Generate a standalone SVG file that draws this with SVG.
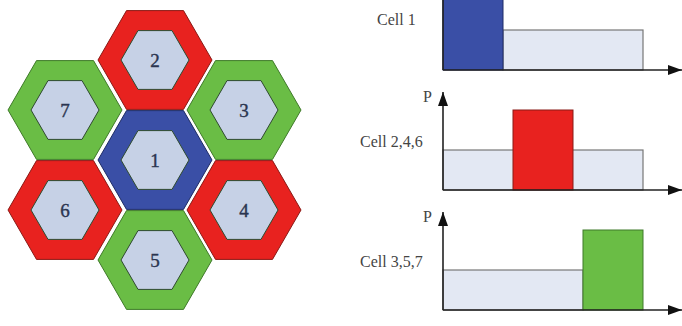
<svg xmlns="http://www.w3.org/2000/svg" width="682" height="326" viewBox="0 0 682 326">
  <style>
    .lbl { font-family: "Liberation Serif", "Times New Roman", serif; fill: #444; font-size: 16px; }
    .num { font-family: "Liberation Serif", "Times New Roman", serif; fill: #2b3550; stroke: #2b3550; stroke-width: 0.4; font-size: 19px; text-anchor: middle; dominant-baseline: central; }
    .inner { fill: #c6d1e6; stroke: #2e4a2e; stroke-width: 1; }
    .red { fill: #e8221f; stroke: #8a1a16; stroke-width: 1; }
    .green { fill: #6abd45; stroke: #3f7a2a; stroke-width: 1; }
    .blue { fill: #3a4fa6; stroke: #1e2c66; stroke-width: 1; }
    .axis { stroke: #222; stroke-width: 1.6; fill: none; }
    .base { fill: #e3e8f3; stroke: #777; stroke-width: 1.2; }
  </style>
  <defs>
    <polygon id="hexOuter" points="-57,0 -28.5,-49.4 28.5,-49.4 57,0 28.5,49.4 -28.5,49.4"/>
    <polygon id="hexInner" points="-34,0 -17,-29.4 17,-29.4 34,0 17,29.4 -17,29.4"/>
    <marker id="arrow" viewBox="0 0 14 10" refX="14" refY="5" markerWidth="14" markerHeight="10" markerUnits="userSpaceOnUse" orient="auto">
      <path d="M0,0 L14,5 L0,10 Z" fill="#111"/>
    </marker>
  </defs>

  <rect width="682" height="326" fill="#ffffff"/>

  <!-- cluster of seven cells -->
  <g id="cell1" transform="translate(155,160)">
    <use href="#hexOuter" class="blue"/>
    <use href="#hexInner" class="inner"/>
    <text class="num" x="0" y="0">1</text>
  </g>
  <g id="cell2" transform="translate(155,60)">
    <use href="#hexOuter" class="red"/>
    <use href="#hexInner" class="inner"/>
    <text class="num" x="0" y="0">2</text>
  </g>
  <g id="cell3" transform="translate(244,110)">
    <use href="#hexOuter" class="green"/>
    <use href="#hexInner" class="inner"/>
    <text class="num" x="0" y="0">3</text>
  </g>
  <g id="cell4" transform="translate(244,210)">
    <use href="#hexOuter" class="red"/>
    <use href="#hexInner" class="inner"/>
    <text class="num" x="0" y="0">4</text>
  </g>
  <g id="cell5" transform="translate(155,260)">
    <use href="#hexOuter" class="green"/>
    <use href="#hexInner" class="inner"/>
    <text class="num" x="0" y="0">5</text>
  </g>
  <g id="cell6" transform="translate(65,210)">
    <use href="#hexOuter" class="red"/>
    <use href="#hexInner" class="inner"/>
    <text class="num" x="0" y="0">6</text>
  </g>
  <g id="cell7" transform="translate(65,110)">
    <use href="#hexOuter" class="green"/>
    <use href="#hexInner" class="inner"/>
    <text class="num" x="0" y="0">7</text>
  </g>

  <!-- power allocation, cell 1 -->
  <g id="chart1">
    <rect class="base" x="503" y="30" width="140" height="40"/>
    <rect class="blue" x="443" y="-20" width="60" height="90"/>
    <text class="lbl" x="377" y="25">Cell 1</text>
  </g>

  <!-- power allocation, cells 2,4,6 -->
  <g id="chart2">
    <rect class="base" x="443" y="150" width="200" height="40"/>
    <rect class="red" x="513" y="110" width="60" height="80"/>
    <text class="lbl" x="360" y="147">Cell 2,4,6</text>
    <text class="lbl" x="423" y="102" font-size="14">P</text>
  </g>

  <!-- power allocation, cells 3,5,7 -->
  <g id="chart3">
    <rect class="base" x="443" y="270" width="140" height="40"/>
    <rect class="green" x="583" y="230" width="60" height="80"/>
    <text class="lbl" x="360" y="267">Cell 3,5,7</text>
    <text class="lbl" x="423" y="222" font-size="14">P</text>
  </g>

  <!-- axes -->
  <g id="connectors">
    <line class="axis" x1="443" y1="70" x2="443" y2="-10"/>
    <line class="axis" x1="443" y1="70" x2="682" y2="70" marker-end="url(#arrow)"/>
    <line class="axis" x1="443" y1="190" x2="443" y2="92" marker-end="url(#arrow)"/>
    <line class="axis" x1="443" y1="190" x2="682" y2="190" marker-end="url(#arrow)"/>
    <line class="axis" x1="443" y1="310" x2="443" y2="212" marker-end="url(#arrow)"/>
    <line class="axis" x1="443" y1="310" x2="682" y2="310" marker-end="url(#arrow)"/>
  </g>
</svg>
